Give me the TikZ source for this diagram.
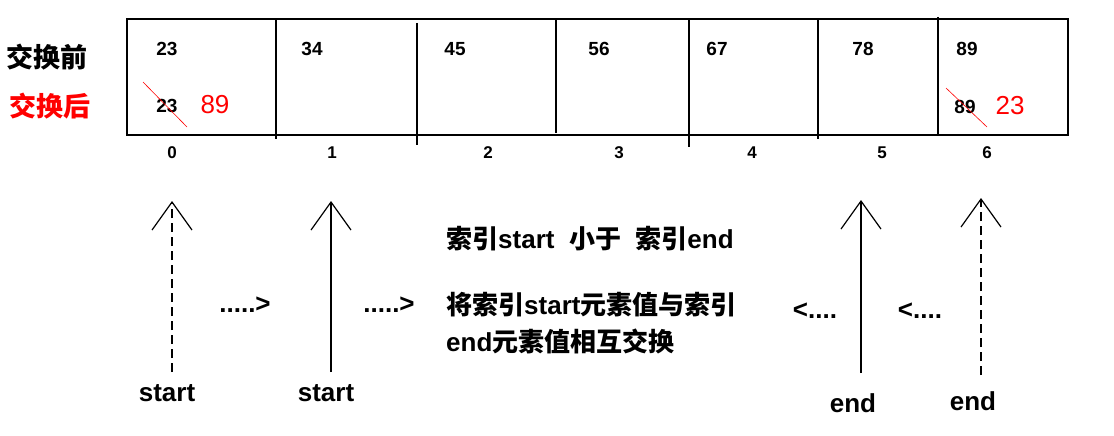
\documentclass[tikz,border=0pt]{standalone}
\usepackage{fontspec}
\setmainfont{Liberation Sans}
\newfontfamily\cjk{Noto Sans CJK SC}
\usetikzlibrary{arrows.meta}

\begin{document}
\begin{tikzpicture}[
    x=1pt, y=-1pt,
    frame/.style={line width=1.3pt},
    divider/.style={line width=1.1pt},
    cellnum/.style={font=\bfseries\fontsize{19}{19}\selectfont, inner sep=0pt},
    swapnum/.style={font=\fontsize{26}{26}\selectfont, text=red, inner sep=0pt},
    strike/.style={red, line width=0.6pt},
    idx/.style={font=\bfseries\fontsize{17}{17}\selectfont, inner sep=0pt},
    rowlab/.style={font=\cjk\bfseries\fontsize{27}{27}\selectfont, inner sep=0pt},
    ptr/.style={line width=1.2pt, -{Straight Barb[length=28pt, width=40pt, line width=1.2pt]}},
    ptrlab/.style={font=\bfseries\fontsize{26}{26}\selectfont, inner sep=0pt},
    movetxt/.style={font=\bfseries\fontsize{26}{26}\selectfont, inner sep=0pt},
    note/.style={font=\bfseries\fontsize{26}{37}\selectfont, anchor=west, inner sep=0pt, align=left},
  ]
    \useasboundingbox (0,0) rectangle (1114,436);

    % ── array cells ──
    \draw[frame] (127,19) rectangle (1068,135);
    \foreach \x/\ya/\yb in {276/19/139, 417/23/145, 556/19/133, 689/19/147, 818/19/139, 938/17/135}
      \draw[divider] (\x,\ya) -- (\x,\yb);

    % ── row labels ──
    \node[rowlab] (before) at (47,57) {交换前};
    \node[rowlab, text=red] (after) at (50,106) {交换后};

    % ── values before the swap ──
    \foreach \v/\x [count=\i from 0] in {23/167, 34/312, 45/455, 56/599, 67/717, 78/863, 89/967}
      \node[cellnum] (v\i) at (\x,49) {\v};

    % ── values after the swap ──
    \node[cellnum] (w0) at (167,106) {23};
    \node[swapnum] (n0) at (215,105) {89};
    \draw[strike] (143,82) -- (187,127);
    \node[cellnum] (w6) at (965,107) {89};
    \node[swapnum] (n6) at (1010,106) {23};
    \draw[strike] (946,88) -- (987,127);

    % ── indices ──
    \foreach \x [count=\i from 0] in {172, 332, 488, 619, 752, 882, 987}
      \node[idx] (i\i) at (\x,153) {\i};

    % ── pointers ──
    \node[ptrlab] (s0) at (167,393) {start};
    \node[ptrlab] (s1) at (326,393) {start};
    \node[ptrlab] (e5) at (853,403) {end};
    \node[ptrlab] (e6) at (973,401) {end};
    \coordinate (s0b) at (172,372);  \coordinate (s0t) at (172,201);
    \coordinate (s1b) at (331,372);  \coordinate (s1t) at (331,201);
    \coordinate (e5b) at (861,373);  \coordinate (e5t) at (861,200);
    \coordinate (e6b) at (981,375);  \coordinate (e6t) at (981,198);
    \draw[ptr, dash pattern=on 9pt off 5pt] (s0b) -- (s0t);
    \draw[ptr] (s1b) -- (s1t);
    \draw[ptr] (e5b) -- (e5t);
    \draw[ptr, dash pattern=on 9pt off 5pt] (e6b) -- (e6t);

    % ── moves ──
    \node[movetxt] (m0) at (245,305) {.....>};
    \node[movetxt] (m1) at (389,305) {.....>};
    \node[movetxt] (m5) at (815,311) {<....};
    \node[movetxt] (m6) at (920,311) {<....};

    % ── notes ──
    \node[note] (cond) at (446,239) {{\cjk 索引}start\ \ {\cjk 小于}\ \ {\cjk 索引}end};
    \node[note, anchor=north west] (swap) at (446,292) {{\cjk 将索引}start{\cjk 元素值与索引}\\end{\cjk 元素值相互交换}};
\end{tikzpicture}
\end{document}
